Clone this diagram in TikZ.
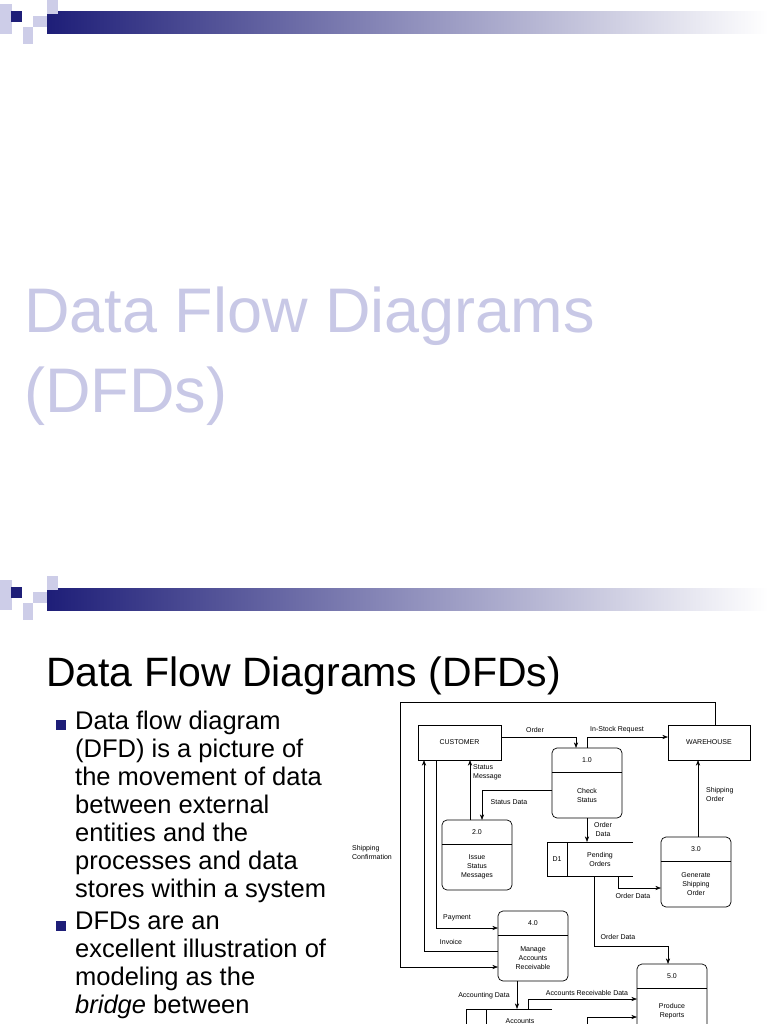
\documentclass[tikz,border=0pt]{standalone}
\usepackage{fontspec}
\setmainfont{Liberation Sans}
\usetikzlibrary{arrows.meta,positioning,calc}
\definecolor{navy}{RGB}{30,30,120}
\definecolor{lilac}{RGB}{200,200,230}
\definecolor{pale}{RGB}{205,205,232}
\newcommand{\slidehead}[1]{%
  \shade[left color=navy, right color=white] (47,#1+12) rectangle (768,#1+34);
  \fill[pale] (0,#1+4) rectangle (12,#1+34);
  \fill[pale] (47,#1) rectangle (58,#1+14);
  \fill[pale] (33,#1+16) rectangle (47,#1+27);
  \fill[pale] (23,#1+27) rectangle (33,#1+44);
  \fill[navy] (11,#1+11) rectangle (22,#1+22);}
\begin{document}
\begin{tikzpicture}[x=1pt,y=-1pt,
    entity/.style={draw, line width=0.7pt, font=\fontsize{7}{8}\selectfont},
    proc/.style={draw, line width=0.7pt, rounded corners=5pt},
    lbl/.style={font=\fontsize{7}{9}\selectfont, align=left, inner sep=0pt},
    flow/.style={-Stealth, line width=0.6pt},
    bullet/.style={font=\fontsize{25.5}{28}\selectfont, align=left, anchor=north west, inner sep=0pt}
  ]
  \useasboundingbox (0,0) rectangle (768,1024);
  % slide 1
  \slidehead{0}
  \node[anchor=west, inner sep=0pt, text=lilac, font=\fontsize{63}{80}\selectfont, align=left] (title1) at (24,356) {Data Flow Diagrams\\(DFDs)};
  % slide 2
  \slidehead{576}
  \node[anchor=west, inner sep=0pt, font=\fontsize{41}{44}\selectfont] (title2) at (46,676) {Data Flow Diagrams (DFDs)};
  \fill[navy] (56,720) rectangle (66,730);
  \node[bullet] (b1) at (75,711) {Data flow diagram\\(DFD) is a picture of\\the movement of data\\between external\\entities and the\\processes and data\\stores within a system};
  \fill[navy] (56,921) rectangle (66,931);
  \node[bullet] (b2) at (75,912) {DFDs are an\\excellent illustration of\\modeling as the\\\textit{bridge} between};
  % diagram nodes
  \node[entity, minimum width=83pt, minimum height=35pt] (cust) at (459.5,742.5) {CUSTOMER};
  \node[entity, minimum width=82pt, minimum height=35pt] (ware) at (709,742.5) {WAREHOUSE};
  \foreach \n/\x/\y/\w/\h/\num/\txt in {
      p1/552/748/70/70/1.0/{Check\\Status},
      p2/442/820/70/70/2.0/{Issue\\Status\\Messages},
      p3/661/837/70/70/3.0/{Generate\\Shipping\\Order},
      p4/498/911/70/70/4.0/{Manage\\Accounts\\Receivable},
      p5/637/964/70/80/5.0/{Produce\\Reports}} {
    \draw[proc] (\x,\y) rectangle ++(\w,\h);
    \draw[line width=0.7pt] (\x,\y+24) -- ++(\w,0);
    \node[lbl] (\n num) at (\x+\w/2,\y+12) {\num};
    \node[lbl, align=center] (\n) at (\x+\w/2,\y+47) {\txt};
  }
  % data stores
  \draw[line width=0.7pt] (633,842) -- (547,842) -- (547,876) -- (633,876) (567,842) -- (567,876);
  \node[lbl] (d1id) at (557,859) {D1};
  \node[lbl, align=center] (d1) at (600,859) {Pending\\Orders};
  \draw[line width=0.7pt] (552,1009) -- (466,1009) -- (466,1030) (486,1009) -- (486,1030);
  \node[lbl] (d2) at (520,1021) {Accounts};
  % flows
  \draw[flow] (501,737) -| (576,748);
  \node[lbl] (order) at (535,730) {Order};
  \draw[flow] (587,748) |- (668,737);
  \node[lbl] (instock) at (617,730) {In-Stock Request};
  \draw[flow] (715,725) |- (400,702) |- (498,967);
  \node[lbl] (shipconf) at (372,852) {Shipping\\Confirmation};
  \draw[flow] (470,820) -- (470,760);
  \node[lbl, anchor=west] (statmsg) at (473,772) {Status\\Message};
  \draw[flow] (552,790) -| (482,820);
  \node[lbl] (statdata) at (509,802) {Status Data};
  \draw[flow] (587,818) -- (587,842);
  \node[lbl, align=center] (od1) at (603,829) {Order\\Data};
  \draw[flow] (618,876) |- (661,888);
  \node[lbl] (od2) at (633,896) {Order Data};
  \draw[flow] (698,837) -- (698,760);
  \node[lbl, anchor=west] (shiporder) at (706,794) {Shipping\\Order};
  \draw[flow] (594,876) |- (668,946) -- (668,964);
  \node[lbl] (od3) at (618,937) {Order Data};
  \draw[flow] (436,760) |- (498,928);
  \node[lbl] (pay) at (457,918) {Payment};
  \draw[flow] (498,951) -| (424,760);
  \node[lbl] (inv) at (451,942) {Invoice};
  \draw[flow] (517,981) -- (517,1009);
  \node[lbl] (acd) at (484,996) {Accounting Data};
  \draw[flow] (528,1009) |- (637,999);
  \node[lbl] (ard) at (587,993) {Accounts Receivable Data};
  \draw[flow] (587,1030) |- (637,1017);
\end{tikzpicture}
\end{document}
